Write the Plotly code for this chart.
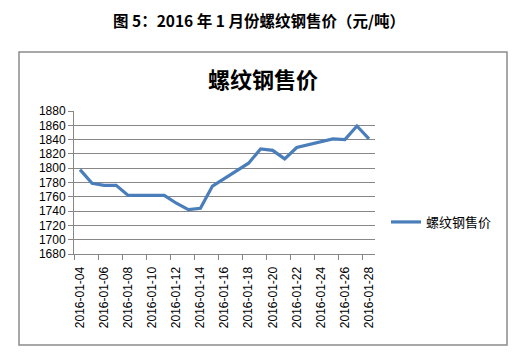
import plotly.graph_objects as go

dates = ["2016-01-04", "2016-01-05", "2016-01-06", "2016-01-07", "2016-01-08",
         "2016-01-11", "2016-01-12", "2016-01-13", "2016-01-14", "2016-01-15",
         "2016-01-18", "2016-01-19", "2016-01-20", "2016-01-21", "2016-01-22",
         "2016-01-25", "2016-01-26", "2016-01-27", "2016-01-28"]
prices = [1798, 1779, 1776, 1776, 1762,
          1762, 1751, 1742, 1744, 1775,
          1807, 1827, 1825, 1813, 1829,
          1841, 1840, 1859, 1841]
tick_dates = ["2016-01-04", "2016-01-06", "2016-01-08", "2016-01-10", "2016-01-12",
              "2016-01-14", "2016-01-16", "2016-01-18", "2016-01-20", "2016-01-22",
              "2016-01-24", "2016-01-26", "2016-01-28"]
series_name = "螺纹钢售价"
fig_title = "图 5：2016 年 1 月份螺纹钢售价（元/吨）"

GRID = "#878787"
FONT = "Liberation Sans, Arial, sans-serif"
CJK = "Noto Sans CJK SC, sans-serif"

OFF = 8  # page body margin
W, H = 526 - OFF, 362 - OFF
PL, PR, PT, PB = 74, 375, 111, 254  # plot area in screen px

def px_x(p):
    return (p - PL) / float(PR - PL)

def px_y(p):
    return (PB - p) / float(PB - PT)

fig = go.Figure()
fig.add_trace(go.Scatter(
    x=dates, y=prices, mode="lines", name=series_name,
    line=dict(color="#4A7EBB", width=3.2),
))

fig.update_layout(
    width=W, height=H, autosize=False,
    margin=dict(l=PL - OFF, r=W - (PR - OFF), t=PT - OFF, b=H - (PB - OFF)),
    paper_bgcolor="white", plot_bgcolor="white",
    showlegend=True,
    legend=dict(x=px_x(386), y=px_y(222), xanchor="left", yanchor="middle",
                font=dict(family=CJK, size=13, color="#000000"),
                bgcolor="rgba(0,0,0,0)"),
    xaxis=dict(
        type="date",
        range=["2016-01-03 12:00", "2016-01-28 12:00"],
        tickmode="array", tickvals=tick_dates, ticktext=tick_dates,
        tickangle=-90, ticks="", showgrid=False,
        ticklabelstandoff=7,
        tickfont=dict(family=FONT, size=12, color="#000000"),
        showline=True, linecolor=GRID, linewidth=1,
        minor=dict(ticks="outside", ticklen=5, tickcolor=GRID,
                   tick0="2016-01-03 12:00", dtick=2 * 86400000, showgrid=False),
        fixedrange=True,
    ),
    yaxis=dict(
        range=[1680, 1880], dtick=20, tick0=1680,
        ticks="outside", ticklen=5, tickcolor=GRID,
        showgrid=True, gridcolor=GRID, gridwidth=1,
        showline=True, linecolor=GRID, linewidth=1,
        zeroline=False,
        tickfont=dict(family=FONT, size=12, color="#000000"),
        fixedrange=True,
    ),
    shapes=[dict(type="rect", xref="paper", yref="paper",
                 x0=px_x(19), x1=px_x(507), y0=px_y(345), y1=px_y(52),
                 line=dict(color="#8C8C8C", width=1.5), layer="below")],
    annotations=[
        dict(text="<b>" + fig_title + "</b>", xref="paper", yref="paper",
             x=px_x(259), y=px_y(OFF + 0.5), xanchor="center", yanchor="top",
             borderpad=0, showarrow=False,
             font=dict(family=CJK, size=15.5, color="#000000")),
        dict(text="<b>" + series_name + "</b>", xref="paper", yref="paper",
             x=px_x(263), y=px_y(78), xanchor="center", yanchor="middle",
             showarrow=False, font=dict(family=CJK, size=22, color="#000000")),
    ],
)

fig.write_html("out.html")
